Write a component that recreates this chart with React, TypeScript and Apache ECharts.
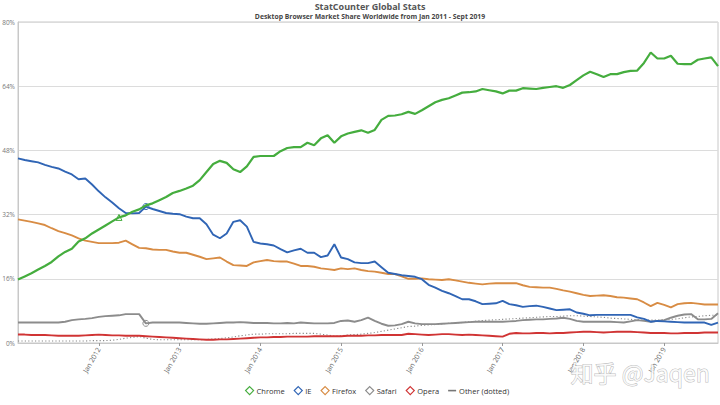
import React, { useEffect, useRef } from "react";
import * as echarts from "echarts";

const years = [2011, 2012, 2013, 2014, 2015, 2016, 2017, 2018, 2019];
const monthNames = ["Jan", "Feb", "Mar", "Apr", "May", "Jun", "Jul", "Aug", "Sep", "Oct", "Nov", "Dec"];
const yTicks = [0, 16, 32, 48, 64, 80];
const titleText = "StatCounter Global Stats";
const subtitleText = "Desktop Browser Market Share Worldwide from Jan 2011 - Sept 2019";

const chrome = [
  15.8, 16.6, 17.4, 18.3, 19.2, 20.2, 21.6, 22.7, 23.5, 25.3, 26.1, 27.3,
  28.3, 29.3, 30.3, 31.3, 31.8, 32.7, 33.3, 34.3, 34.8, 35.6, 36.4, 37.4,
  37.9, 38.5, 39.2, 40.6, 42.6, 44.6, 45.4, 44.9, 43.3, 42.6, 44.0, 46.4,
  46.6, 46.6, 46.6, 47.8, 48.6, 48.8, 48.8, 49.9, 49.3, 51.0, 51.8, 49.9,
  51.5, 52.2, 52.6, 53.0, 52.4, 53.1, 55.6, 56.6, 56.7, 57.0, 57.6, 57.1,
  58.0, 59.0, 60.0, 60.6, 61.0, 61.7, 62.4, 62.5, 62.7, 63.3, 63.0, 62.7,
  62.2, 62.9, 62.9, 63.5, 63.4, 63.3, 63.6, 63.8, 64.0, 63.6, 64.3, 65.5,
  66.7, 67.6, 67.0, 66.3, 67.0, 67.0, 67.5, 67.8, 67.9, 69.8, 72.4, 70.9,
  70.9, 71.6, 69.6, 69.5, 69.5, 70.6, 70.9, 71.2, 69.0,
];
const ie = [
  46.0, 45.6, 45.3, 45.0, 44.4, 43.9, 43.5, 42.7, 42.0, 40.8, 41.0, 39.5,
  37.8, 36.3, 35.0, 33.6, 32.4, 32.3, 32.4, 34.0, 33.4, 32.9, 32.4, 32.2,
  32.1, 31.5, 31.1, 31.1, 29.6, 27.0, 26.1, 27.3, 30.2, 30.6, 29.0, 25.2,
  24.8, 24.6, 24.3, 23.4, 22.6, 23.1, 23.5, 22.5, 22.5, 21.4, 21.8, 24.6,
  21.3, 20.9, 20.1, 19.9, 19.9, 20.3, 18.9, 17.5, 17.2, 16.9, 16.7, 16.5,
  15.9, 14.5, 13.8, 13.0, 12.4, 11.7, 10.9, 10.9, 10.4, 9.7, 9.8, 9.9,
  10.5, 9.7, 9.4, 9.0, 9.2, 9.3, 9.0, 8.6, 8.2, 8.3, 8.4, 7.6,
  7.3, 6.9, 7.0, 7.0, 7.0, 7.0, 7.0, 7.0, 6.4, 6.0, 5.3, 5.5,
  5.4, 5.3, 5.2, 5.1, 5.1, 5.1, 5.1, 4.5, 5.1,
];
const firefox = [
  30.8, 30.5, 30.2, 29.8, 29.4, 28.6, 27.9, 27.4, 26.8, 26.1, 25.5, 25.2,
  24.9, 24.9, 24.9, 25.0, 25.5, 24.6, 23.7, 23.6, 23.3, 23.2, 23.2, 22.8,
  22.5, 22.5, 22.0, 21.5, 20.9, 21.1, 21.3, 20.3, 19.4, 19.3, 19.2, 20.1,
  20.4, 20.7, 20.4, 20.3, 20.3, 19.8, 19.2, 19.2, 19.0, 18.6, 18.4, 18.2,
  18.6, 18.4, 18.6, 18.2, 17.9, 17.8, 17.5, 17.2, 17.2, 16.6, 16.0, 16.0,
  16.1, 15.9, 15.8, 15.7, 15.9, 15.6, 15.3, 15.0, 14.8, 14.6, 14.8, 14.9,
  14.9, 14.9, 14.9, 14.4, 14.0, 13.9, 13.8, 13.8, 13.5, 13.1, 12.8, 12.4,
  12.0, 11.7, 11.8, 11.9, 11.7, 11.4, 11.3, 11.1, 10.9, 10.1, 9.2, 10.0,
  9.5, 8.9, 9.7, 9.9, 10.0, 9.8, 9.6, 9.6, 9.6,
];
const safari = [
  5.1, 5.1, 5.1, 5.1, 5.1, 5.1, 5.1, 5.3, 5.7, 5.9, 6.0, 6.2,
  6.5, 6.7, 6.8, 6.9, 7.2, 7.2, 7.2, 4.9, 5.1, 5.1, 5.1, 5.1,
  5.1, 5.0, 4.9, 4.8, 4.8, 4.9, 5.0, 5.1, 5.1, 5.2, 5.1, 5.0,
  5.0, 5.0, 4.9, 4.9, 5.0, 4.9, 5.1, 5.0, 4.9, 4.9, 4.9, 5.0,
  5.5, 5.6, 5.3, 5.7, 6.3, 5.5, 4.8, 4.3, 4.4, 4.7, 5.3, 4.9,
  4.7, 4.7, 4.7, 4.8, 4.9, 5.0, 5.1, 5.2, 5.3, 5.3, 5.3, 5.3,
  5.3, 5.4, 5.5, 5.7, 5.8, 5.9, 5.9, 6.0, 6.1, 6.3, 6.0, 5.5,
  5.3, 5.3, 5.3, 5.3, 5.3, 5.2, 5.1, 5.4, 5.7, 5.5, 5.3, 5.5,
  5.7, 6.3, 6.8, 7.1, 7.2, 5.9, 5.9, 6.0, 7.4,
];
const opera = [
  2.1, 2.1, 2.0, 2.0, 2.0, 1.9, 1.8, 1.8, 1.8, 1.8, 1.9, 2.0,
  2.1, 2.0, 1.9, 1.9, 1.8, 1.8, 1.8, 1.7, 1.6, 1.5, 1.4, 1.3,
  1.2, 1.1, 1.0, 0.9, 0.8, 0.8, 0.9, 0.9, 1.0, 1.1, 1.2, 1.3,
  1.4, 1.4, 1.5, 1.5, 1.6, 1.6, 1.6, 1.6, 1.7, 1.7, 1.7, 1.7,
  1.7, 1.8, 1.8, 1.8, 1.9, 1.9, 2.0, 2.0, 2.0, 2.0, 2.3, 2.2,
  2.1, 2.0, 2.1, 2.2, 2.2, 2.1, 2.0, 2.1, 2.0, 1.9, 1.8, 1.7,
  1.6, 2.3, 2.5, 2.4, 2.4, 2.5, 2.5, 2.4, 2.5, 2.5, 2.6, 2.7,
  2.8, 2.8, 2.7, 2.6, 2.7, 2.8, 2.8, 2.8, 2.7, 2.6, 2.5, 2.5,
  2.5, 2.4, 2.4, 2.5, 2.5, 2.5, 2.6, 2.6, 2.6,
];
const other = [
  0.5, 0.5, 0.5, 0.5, 0.5, 0.5, 0.5, 0.5, 0.5, 0.5, 0.5, 0.6,
  0.6, 0.6, 0.7, 0.9, 1.2, 1.4, 1.6, 1.2, 0.9, 0.8, 0.8, 0.8,
  0.8, 0.8, 0.8, 0.8, 0.9, 1.0, 1.1, 1.3, 1.5, 1.8, 2.0, 2.2,
  2.2, 2.3, 2.3, 2.3, 2.3, 2.4, 2.4, 2.4, 2.4, 2.2, 2.0, 1.7,
  1.8, 2.0, 2.1, 2.2, 2.4, 2.6, 2.9, 3.2, 3.5, 3.8, 4.1, 4.2,
  4.4, 4.5, 4.6, 4.8, 4.9, 5.0, 5.1, 5.3, 5.4, 5.6, 5.7, 5.8,
  5.9, 6.0, 6.1, 6.2, 6.3, 6.4, 6.5, 6.6, 6.6, 6.7, 6.8, 6.8,
  6.7, 6.6, 6.5, 6.4, 6.2, 6.1, 6.0, 5.9, 5.8, 5.7, 5.7, 5.7,
  5.8, 5.9, 6.0, 6.3, 6.5, 6.6, 6.8, 6.9, 7.0,
];

const seriesNames = ["Chrome", "IE", "Firefox", "Safari", "Opera", "Other (dotted)"];
const seriesColors = ["#45ad3e", "#3065b5", "#d88c44", "#8c8c8c", "#d03434", "#9a9a9a"];
const markerIndex = 15;
const markerIndex2 = 19;

const categories: string[] = [];
years.forEach((y) => monthNames.forEach((m) => categories.push(`${m} ${y}`)));
categories.length = chrome.length;

const FONT = "Open Sans";

export default function App() {
  const ref = useRef<HTMLDivElement>(null);
  useEffect(() => {
    if (!ref.current) return;
    const chart = echarts.init(ref.current, undefined, { renderer: "svg" });
    const values = [chrome, ie, firefox, safari, opera, other];
    const janOnly = (i: number) => i % 12 === 0 && i > 0;
    const mp = (data: number[], idx: number, symbol: string, color: string) => ({
      symbol,
      symbolSize: 6,
      silent: true,
      label: { show: false },
      itemStyle: { color: "#fff", borderColor: color, borderWidth: 1 },
      data: [{ coord: [idx, data[idx]] }],
    });
    chart.setOption({
      animation: false,
      backgroundColor: "#fff",
      textStyle: { fontFamily: FONT },
      legend: {
        left: 240,
        top: 381,
        itemGap: 9,
        itemWidth: 8,
        itemHeight: 8,
        textStyle: { fontSize: 7.5, color: "#333", fontFamily: FONT, padding: [0, 0, 0, -2] },
        data: seriesNames.map((n, k) =>
          k === 5
            ? { name: n, icon: "path://M0,0 H10 V2 H0 Z", itemStyle: { color: "#777" } }
            : {
                name: n,
                icon: "diamond",
                itemStyle: { color: "#fff", borderColor: seriesColors[k], borderWidth: 1.2 },
              }
        ),
      },
      grid: {
        left: 18,
        right: 2,
        top: 22,
        bottom: 62,
        containLabel: false,
        outerBoundsMode: "none",
        show: true,
        borderColor: "#c8c8c8",
        borderWidth: 1,
      },
      xAxis: {
        type: "category",
        data: categories,
        boundaryGap: false,
        axisLine: { lineStyle: { color: "#c8c8c8" } },
        axisTick: { show: true, interval: janOnly, length: 3, lineStyle: { color: "#999" } },
        axisLabel: {
          interval: janOnly,
          rotate: 60,
          fontSize: 7,
          color: "#666",
          margin: 5,
          formatter: (v: string) => v,
        },
        splitLine: { show: false },
      },
      yAxis: {
        type: "value",
        min: yTicks[0],
        max: yTicks[yTicks.length - 1],
        interval: yTicks[1] - yTicks[0],
        axisLine: { show: true, lineStyle: { color: "#c8c8c8" } },
        axisTick: { show: false },
        axisLabel: { formatter: "{value}%", fontSize: 6.5, color: "#777", margin: 3 },
        splitLine: { lineStyle: { color: "#dcdcdc", width: 1 } },
      },
      series: values.map((d, k) => ({
        name: seriesNames[k],
        type: "line",
        data: d,
        showSymbol: false,
        symbol: "none",
        z: 10 - k,
        itemStyle: { color: seriesColors[k] },
        lineStyle:
          k === 5
            ? { color: "#8a8a8a", width: 1.1, type: [1.2, 2.2] }
            : { color: seriesColors[k], width: k === 0 ? 2.2 : 1.9 },
        markPoint:
          k === 0
            ? mp(d, markerIndex, "triangle", seriesColors[k])
            : k === 1 || k === 3
            ? mp(d, markerIndex2, "circle", seriesColors[k])
            : undefined,
      })),
      graphic: [
        {
          type: "text",
          x: 370,
          y: 2,
          style: {
            text: titleText,
            fontSize: 9,
            fontWeight: "bold",
            fontFamily: FONT,
            fill: "#555",
            textAlign: "center",
            textVerticalAlign: "top",
          },
        },
        {
          type: "text",
          x: 370,
          y: 13,
          style: {
            text: subtitleText,
            fontSize: 6.8,
            fontWeight: "bold",
            fontFamily: FONT,
            fill: "#444",
            textAlign: "center",
            textVerticalAlign: "top",
          },
        },
        {
          type: "text",
          left: 570,
          top: 360,
          z: 100,
          style: {
            text: "知乎 @Jaqen",
            fontSize: 23,
            fontFamily: "Noto Sans CJK SC",
            fill: "rgba(255,255,255,0.85)",
            stroke: "rgba(130,130,130,0.55)",
            lineWidth: 1,
          },
        },
      ],
    });
    return () => chart.dispose();
  }, []);
  return (
    <div
      ref={ref}
      style={{ position: "fixed", left: 0, top: 0, width: 720, height: 405 }}
    />
  );
}
